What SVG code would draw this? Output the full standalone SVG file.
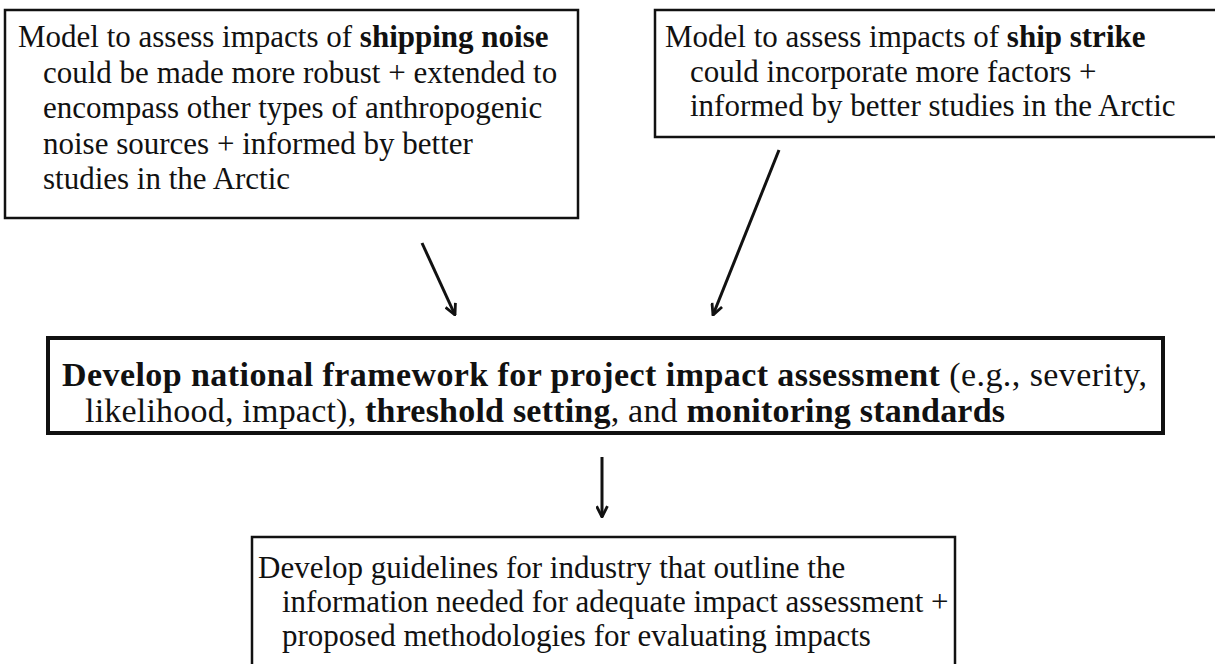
<svg xmlns="http://www.w3.org/2000/svg" width="1215" height="664" viewBox="0 0 1215 664">
  <style>
    .box { fill: #ffffff; stroke: #111111; stroke-width: 2.5; }
    .box-main { fill: #ffffff; stroke: #111111; stroke-width: 4; }
    .txt { font-family: "Liberation Serif", "Times New Roman", serif; font-size: 31px; fill: #111111; }
    .txt-main { font-family: "Liberation Serif", "Times New Roman", serif; font-size: 34px; fill: #111111; }
    .b { font-weight: bold; }
    .link { stroke: #111111; stroke-width: 3; fill: none; marker-end: url(#chevron); }
  </style>
  <defs>
    <marker id="chevron" viewBox="0 0 12 12" refX="11" refY="6" markerWidth="13" markerHeight="13" markerUnits="userSpaceOnUse" orient="auto">
      <path d="M1,1 L11,6 L1,11" fill="none" stroke="#111111" stroke-width="2.6" stroke-linejoin="miter"/>
    </marker>
  </defs>
  <rect width="1215" height="664" fill="#ffffff"/>

  <g id="node-shipping-noise">
    <rect class="box" x="5" y="10" width="573" height="208"/>
    <text class="txt" x="18" y="47">Model to assess impacts of <tspan class="b">shipping noise</tspan></text>
    <text class="txt" x="43" y="82.5">could be made more robust + extended to</text>
    <text class="txt" x="43" y="118">encompass other types of anthropogenic</text>
    <text class="txt" x="43" y="153.5">noise sources + informed by better</text>
    <text class="txt" x="43" y="189">studies in the Arctic</text>
  </g>

  <g id="node-ship-strike">
    <rect class="box" x="655" y="10" width="570" height="127"/>
    <text class="txt" x="665" y="47">Model to assess impacts of <tspan class="b">ship strike</tspan></text>
    <text class="txt" x="690" y="82">could incorporate more factors +</text>
    <text class="txt" x="690" y="116">informed by better studies in the Arctic</text>
  </g>

  <g id="node-framework">
    <rect class="box-main" x="48" y="338" width="1115" height="95"/>
    <text class="txt-main" x="62" y="386" textLength="1085" lengthAdjust="spacing"><tspan class="b">Develop national framework for project impact assessment</tspan> (e.g., severity,</text>
    <text class="txt-main" x="85" y="422" textLength="920" lengthAdjust="spacing"><tspan>likelihood, impact), </tspan><tspan class="b">threshold setting</tspan><tspan>, and </tspan><tspan class="b">monitoring standards</tspan></text>
  </g>

  <g id="node-guidelines">
    <rect class="box" x="252" y="537" width="703" height="140"/>
    <text class="txt" x="258" y="578">Develop guidelines for industry that outline the</text>
    <text class="txt" x="282" y="612">information needed for adequate impact assessment +</text>
    <text class="txt" x="282" y="646">proposed methodologies for evaluating impacts</text>
  </g>

  <g id="connectors">
    <line class="link" x1="422" y1="243" x2="455" y2="315"/>
    <line class="link" x1="779" y1="150" x2="713" y2="315"/>
    <line class="link" x1="602" y1="457" x2="602" y2="517"/>
  </g>
</svg>
